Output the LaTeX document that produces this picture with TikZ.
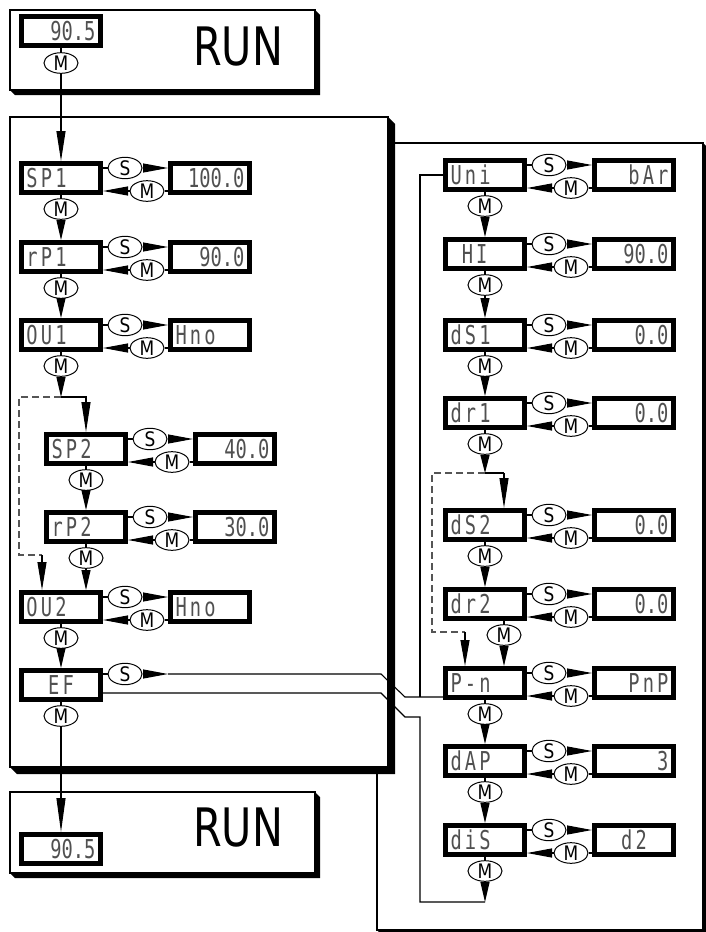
\documentclass[tikz,border=0pt]{standalone}
\usepackage{fontspec}
\setmainfont{DejaVu Sans}
\newfontfamily\segfont[FakeStretch=0.72]{DejaVu Sans Mono}
\newfontfamily\seglab[FakeStretch=0.72,LetterSpace=12]{DejaVu Sans Mono}
\newfontfamily\keyfont[FakeStretch=0.85]{DejaVu Sans}
\newfontfamily\runfont[FakeStretch=0.78]{DejaVu Sans}
\usepackage{xcolor}
\definecolor{cInk}{HTML}{000000}
\definecolor{cSeg}{HTML}{505050}
\definecolor{cDash}{HTML}{555555}
\usetikzlibrary{positioning,arrows.meta,calc,shapes.geometric}
\tikzset{
  node-disp/.style={draw=cInk,line width=5pt,fill=white,minimum width=79pt,
    minimum height=29pt,inner sep=4pt,text width=69pt,align=left,
    font={\segfont\fontsize{26}{26}\selectfont},text=cSeg},
  node-key/.style={draw=cInk,ellipse,line width=1pt,fill=white,
    minimum width=34pt,minimum height=19pt,inner sep=0pt,
    font={\keyfont\fontsize{20}{20}\selectfont}},
  node-run/.style={font={\runfont\fontsize{53}{53}\selectfont}},
  line-thin/.style={draw=cInk,line width=1.1pt},
  line-dash/.style={draw=cDash,line width=1.1pt,dash pattern=on 7pt off 4pt},
  arrow-wedge/.style={line-thin,-{Triangle[length=#1,width=9pt]}},
  arrow-wedge/.default=20pt,
  panel/.style={draw=cInk,line width=1.1pt,fill=white},
  panel-shadow/.style={fill=cInk},
}
\begin{document}
\begin{tikzpicture}[x=1pt,y=-1pt]
  \useasboundingbox (0,0) rectangle (706,932);
  % panels
  \fill[panel-shadow] (703,143) -- (707,147) -- (707,934) -- (381,934) -- (377,930) -- cycle;
  \draw[panel] (377,143) rectangle (703,930);
  \fill[panel-shadow] (388,117) -- (395,124) -- (395,774) -- (17,774) -- (10,767) -- cycle;
  \draw[panel] (10,117) rectangle (388,767);
  \fill[panel-shadow] (315,10) -- (320,15) -- (320,95) -- (15,95) -- (10,90) -- cycle;
  \draw[panel] (10,10) rectangle (315,90);
  \fill[panel-shadow] (315,792) -- (320,797) -- (320,878) -- (15,878) -- (10,873) -- cycle;
  \draw[panel] (10,792) rectangle (315,873);

  % RUN
  \node[node-disp] (run1-disp) at (61,31) {\hfill 90.5};
  \node[node-key]  (run1-m)    at (61,63) {M};
  \node[node-run]  (run1-txt)  at (238,47) {RUN};
  \node[node-disp] (run2-disp) at (61,849) {\hfill 90.5};
  \node[node-run]  (run2-txt)  at (238,828) {RUN};

  % menu rows
  \foreach \nm/\px/\py/\dx/\lab/\val in {
      sp1/61/178/0/SP1/{\hfill 100.0},
      rp1/61/257/0/rP1/{\hfill 90.0},
      ou1/61/335/0/OU1/{\seglab Hno},
      sp2/86/449/0/SP2/{\hfill 40.0},
      rp2/86/527/0/rP2/{\hfill 30.0},
      ou2/61/607/0/OU2/{\seglab Hno},
      uni/485/175/0/Uni/{\hfill\seglab bAr},
      hi/485/254/0/{\phantom{0}HI}/{\hfill 90.0},
      ds1/485/335/0/dS1/{\hfill 0.0},
      dr1/485/413/0/dr1/{\hfill 0.0},
      ds2/485/525/0/dS2/{\hfill 0.0},
      dr2/485/604/19/dr2/{\hfill 0.0},
      pn/485/683/0/P-n/{\hfill\seglab PnP},
      dap/485/761/0/dAP/{\hfill 3},
      dis/485/840/0/diS/{\hfill\seglab d2\hfill\mbox{}}}{
    \node[node-disp] (\nm)     at (\px,\py) {\seglab\lab};
    \node[node-disp] (\nm-val) at (\px+149,\py) {\val};
    \node[node-key]  (\nm-s)   at (\px+64,\py-10) {S};
    \node[node-key]  (\nm-m)   at (\px+86,\py+13) {M};
    \node[node-key]  (\nm-d)   at (\px+\dx,\py+31) {M};
    \draw[line-thin] (\nm-s -| \nm.east) -- (\nm-s);
    \draw[arrow-wedge=25pt] (\nm-s) -- (\nm-s -| \nm-val.west);
    \draw[arrow-wedge=25pt] (\nm-m) -- (\nm-m -| \nm.east);
    \draw[line-thin] (\nm-m) -- (\nm-m -| \nm-val.west);
    \draw[line-thin] (\nm-d |- \nm.south) -- (\nm-d);
  }

  % EF
  \node[node-disp] (ef)   at (61,685) {\hfill\seglab EF\hfill\mbox{}};
  \node[node-key]  (ef-s) at (125,674) {S};
  \node[node-key]  (ef-d) at (61,716) {M};
  \draw[line-thin] (ef-s -| ef.east) -- (ef-s);
  \draw[line-thin] (ef) -- (ef-d);

  % M steps
  \foreach \a/\b in {sp1/rp1,rp1/ou1,sp2/rp2,rp2/ou2,ou2/ef,
      uni/hi,hi/ds1,ds1/dr1,ds2/dr2,dr2/pn,pn/dap,dap/dis}
    \draw[arrow-wedge=20pt] (\a-d) -- (\a-d |- \b.north);
  \draw[line-thin] (run1-m |- run1-disp.south) -- (run1-m);
  \draw[arrow-wedge=30pt] (run1-m) -- (run1-m |- sp1.north);
  \draw[arrow-wedge=34pt] (ef-d) -- (ef-d |- run2-disp.north);

  % skip sp2/rp2
  \coordinate (j1) at (61,397);
  \coordinate (j1-a) at (19,397);
  \coordinate (j1-b) at (19,555);
  \coordinate (j1-c) at (42,555);
  \draw[arrow-wedge=20pt] (ou1-d) -- (j1);
  \draw[arrow-wedge=30pt] (j1) -| (sp2.north);
  \draw[line-dash] (j1) -- (j1-a) -- (j1-b) -- (j1-c);
  \draw[arrow-wedge=28pt] (j1-c) -- (j1-c |- ou2.north);

  % skip ds2/dr2
  \coordinate (j2) at (485,473);
  \coordinate (j2-in) at (504,473);
  \coordinate (j2-a) at (432,473);
  \coordinate (j2-b) at (432,632);
  \coordinate (j2-c) at (465,632);
  \draw[arrow-wedge=18pt] (dr1-d) -- (j2);
  \draw[line-thin] (j2) -- (j2-in);
  \draw[arrow-wedge=30pt] (j2-in) -- (j2-in |- ds2.north);
  \draw[line-dash] (j2) -- (j2-a) -- (j2-b) -- (j2-c);
  \draw[arrow-wedge=26pt] (j2-c) -- (j2-c |- pn.north);

  % EF <-> extended menu
  \coordinate (ef-s-end) at (168,674);
  \coordinate (ef-up1) at (381,674);
  \coordinate (ef-up2) at (405,697);
  \coordinate (ef-lo1) at (381,693);
  \coordinate (ef-lo2) at (405,717);
  \coordinate (back-x) at (420,717);
  \coordinate (back-end) at (485,902);
  \draw[arrow-wedge=25pt] (ef-s) -- (ef-s-end);
  \draw[line-thin] (ef-s-end) -- (ef-up1) -- (ef-up2) -- (ef-up2 -| pn.west);
  \draw[line-thin] (uni.west) -| (back-x |- ef-up2);
  \draw[line-thin] (ef.east |- ef-lo1) -- (ef-lo1) -- (ef-lo2) -- (back-x) |- (back-end);
  \draw[arrow-wedge=20pt] (dis-d) -- (back-end);
\end{tikzpicture}
\end{document}
